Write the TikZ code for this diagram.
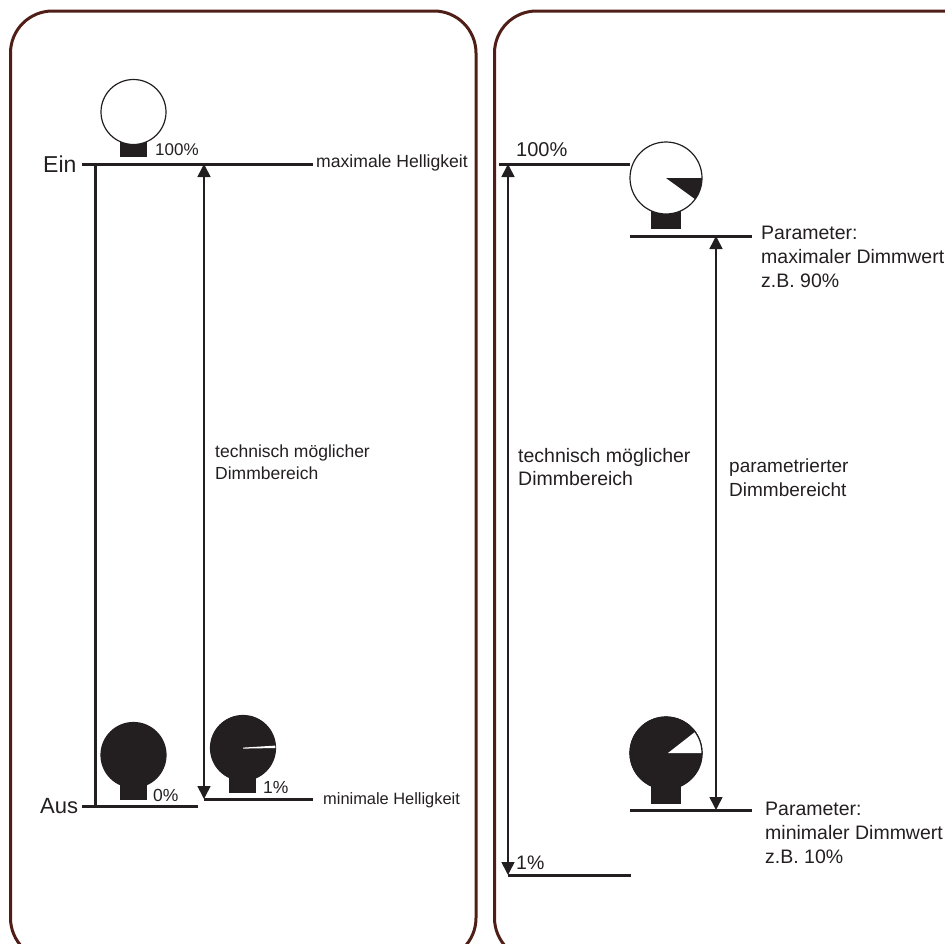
\documentclass[tikz,border=0pt]{standalone}
\usepackage{fontspec}
\setmainfont{Liberation Sans}
\usetikzlibrary{arrows.meta}
\definecolor{ink}{HTML}{231F20}
\definecolor{framec}{HTML}{4F1F17}
\tikzset{
  x=1pt,y=-1pt,
  panel/.style={draw=framec,line width=3pt,rounded corners=42pt},
  level/.style={draw=ink,line width=3pt},
  rail/.style={draw=ink,line width=3pt},
  dim/.style={draw=ink,line width=1.6pt,{Triangle[width=13pt,length=13pt]}-{Triangle[width=13pt,length=13pt]}},
  lamp/.style={draw=ink,line width=1.2pt},
  base/.style={fill=ink,draw=none},
  lab/.style={anchor=west,inner sep=0pt,text=ink,font=\fontsize{#1}{#1}\selectfont,align=left},
  lab/.default=16
}
\begin{document}
\begin{tikzpicture}
\useasboundingbox (0,0) rectangle (945,943);
\begin{scope}
\clip (0,0) rectangle (945,943);
\draw[panel] (10.5,960) -- (10.5,11) -- (476,11) -- (476,960) -- cycle;
\draw[panel] (494.5,960) -- (494.5,11) -- (1000,11) -- (1000,960) -- cycle;
\end{scope}

% left panel lamps
\fill[base] (120,140) rectangle (147,157);
\draw[lamp,fill=white] (133.5,112) circle (32.5);
\fill[base] (120,780) rectangle (147,800);
\draw[lamp,fill=ink] (133.5,755) circle (32.5);
\fill[base] (229,772) rectangle (256,793);
\draw[lamp,fill=ink] (243,748) circle (32.5);
\fill[white] (243,747.6) -- (275.2,745.6) -- (275.4,748) -- (243,748.6) -- cycle;

% right panel lamps
\fill[base] (651,205) rectangle (681,229);
\draw[lamp,fill=white] (666,178) circle (36);
\fill[ink] (666,178) -- (702,178) arc[start angle=0,end angle=36,radius=36] -- cycle;
\fill[base] (651,780) rectangle (681,804);
\draw[lamp,fill=ink] (666,753) circle (36);
\fill[white] (668,753) -- (702,753) arc[start angle=0,end angle=-36,radius=36] -- cycle;
\draw[lamp] (666,753) circle (36);

% anchors
\coordinate (einL) at (82,164);
\coordinate (einR) at (313,164);
\coordinate (ausL) at (82,806);
\coordinate (ausR) at (198,806);
\coordinate (minL) at (204,799);
\coordinate (minR) at (313,799);
\coordinate (railT) at (95,164);
\coordinate (railB) at (95,806);
\coordinate (dimT) at (204,164);
\coordinate (dimB) at (204,799);
\coordinate (topL) at (499,164);
\coordinate (topR) at (630,164);
\coordinate (maxL) at (630,236);
\coordinate (maxR) at (752,236);
\coordinate (loL) at (630,810);
\coordinate (loR) at (752,810);
\coordinate (oneL) at (508,875);
\coordinate (oneR) at (631,875);
\coordinate (techT) at (508,164);
\coordinate (techB) at (508,875);
\coordinate (parT) at (716,236);
\coordinate (parB) at (716,810);

\draw[level] (einL) -- (einR);
\draw[level] (ausL) -- (ausR);
\draw[level] (minL) -- (minR);
\draw[rail] (railT) -- (railB);
\draw[dim] (dimT) -- (dimB);
\draw[level] (topL) -- (topR);
\draw[level] (maxL) -- (maxR);
\draw[level] (loL) -- (loR);
\draw[level] (oneL) -- (oneR);
\draw[dim] (techT) -- (techB);
\draw[dim] (parT) -- (parB);

% labels, left
\node[lab=23] (ein) at (43,164) {Ein};
\node[lab=22] (aus) at (40,806) {Aus};
\node[lab=17] (p100a) at (155,150) {100\%};
\node[lab=17.5] (p0) at (153,795) {0\%};
\node[lab=17.5] (p1a) at (263,787) {1\%};
\node[lab=17.6] (maxh) at (316,163) {maximale Helligkeit};
\node[lab=16.4] (minh) at (323,800) {minimale Helligkeit};
\node[lab=17.5] (techa) at (215,462) {technisch möglicher\\[4.5pt]Dimmbereich};

% labels, right
\node[lab=20] (p100b) at (516,150) {100\%};
\node[lab=19.5] (p1b) at (516,863) {1\%};
\node[lab=19.5] (techb) at (518,467) {technisch möglicher\\[4pt]Dimmbereich};
\node[lab=19] (parl) at (729,478) {parametrierter\\[5pt]Dimmbereicht};
\node[lab=19.5] (pmax) at (761,257) {Parameter:\\[4.5pt]maximaler Dimmwert\\[4.5pt]z.B. 90\%};
\node[lab=19.5] (pmin) at (765,833) {Parameter:\\[4.5pt]minimaler Dimmwert\\[4.5pt]z.B. 10\%};
\end{tikzpicture}
\end{document}
